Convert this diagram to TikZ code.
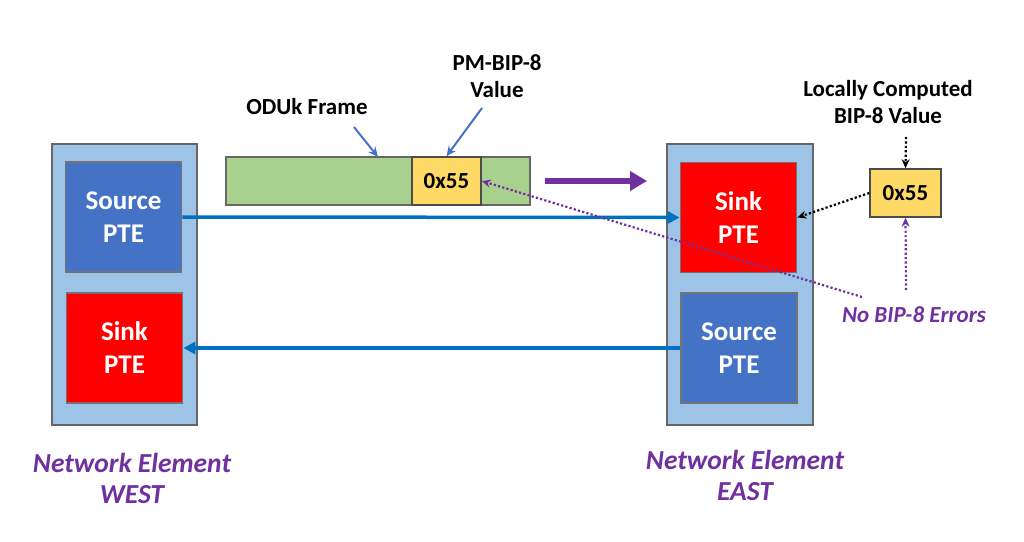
\documentclass[tikz,border=0pt]{standalone}
\usepackage{fontspec}
\setmainfont{Carlito}
\usetikzlibrary{arrows.meta}
\definecolor{nebg}{RGB}{157,195,230}
\definecolor{srcblue}{RGB}{68,114,196}
\definecolor{framegreen}{RGB}{169,209,142}
\definecolor{bipyellow}{RGB}{255,217,102}
\definecolor{vio}{RGB}{112,48,160}
\definecolor{linkblue}{RGB}{0,112,192}
\tikzset{
  ne/.style={draw=black!60, line width=2pt, fill=nebg, inner sep=0pt},
  pte/.style={draw=black!55, line width=1.8pt, inner sep=0pt, minimum width=116, minimum height=110,
    text=white, font=\fontsize{27}{33}\selectfont\bfseries, align=center},
  bip/.style={draw=black!70, line width=1.5pt, fill=bipyellow, inner sep=0pt, minimum height=48,
    font=\fontsize{23}{24}\selectfont\bfseries},
  lbl/.style={font=\fontsize{23}{27}\selectfont\bfseries, align=center},
  nelbl/.style={text=vio, font=\fontsize{27.5}{31}\selectfont\bfseries\itshape, align=center},
  link/.style={linkblue, line width=3.5pt, -{Triangle[length=12pt,width=12pt]}},
  dots/.style={line width=2.2pt, dash pattern=on 2.2pt off 2.2pt, -{Stealth[length=9pt,width=8pt]}},
}
\begin{document}
\begin{tikzpicture}[x=1pt,y=-1pt]
\useasboundingbox (0,0) rectangle (1024,541);

% network elements
\node (west) at (124.5,284) [ne, minimum width=145, minimum height=281] {};
\node (east) at (740,284) [ne, minimum width=146, minimum height=281] {};

\node (wsrc) at (123.5,217) [pte, fill=srcblue] {Source\\PTE};
\node (wsink) at (124.5,348) [pte, fill=red] {Sink\\PTE};
\node (esink) at (738.5,217.5) [pte, fill=red] {Sink\\PTE};
\node (esrc) at (739,348) [pte, fill=srcblue] {Source\\PTE};

\node (wname) at (132,478) [nelbl] {Network Element\\WEST};
\node (ename) at (745,475) [nelbl] {Network Element\\EAST};

% links
\draw[link] (wsrc.east) -- (esink.west);
\draw[link] (esrc.west) -- (wsink.east);

% frame
\node (frame) at (378,181) [draw=black!60, line width=1.5pt, fill=framegreen, minimum width=304, minimum height=48, inner sep=0pt] {};
\node (pmbip) at (446.5,181) [bip, minimum width=69] {0x55};
\coordinate (dir0) at (545,181);
\coordinate (dir1) at (647,181);
\draw[vio, line width=6pt, -{Triangle[length=17pt,width=19pt]}] (dir0) -- (dir1);

\node (framelbl) at (307,107) [lbl] {ODUk Frame};
\node (pmlbl) at (497,76) [lbl] {PM-BIP-8\\Value};
\coordinate (framept) at (378,157);
\draw[srcblue, line width=2pt, -{Stealth[length=10pt,width=9pt]}] (354,127) -- (framept);
\draw[srcblue, line width=2pt, -{Stealth[length=10pt,width=9pt]}] (482,108) -- (pmbip.north);

% local computation
\node (local) at (905.5,193) [bip, minimum width=71] {0x55};
\node (locallbl) at (888,102) [lbl] {Locally Computed\\BIP-8 Value};
\draw[dots, black] (906,137) -- (local.north);
\draw[dots, black] (local.west) -- (esink.east);

\node (noerr) at (914,315) [text=vio, font=\fontsize{23}{24}\selectfont\bfseries\itshape] {No BIP-8 Errors};
\coordinate (cmp) at (862,297);
\coordinate (cmp2) at (906,290);
\draw[dots, vio] (cmp) -- (pmbip.east);
\draw[dots, vio] (cmp2) -- (local.south);

\end{tikzpicture}
\end{document}
